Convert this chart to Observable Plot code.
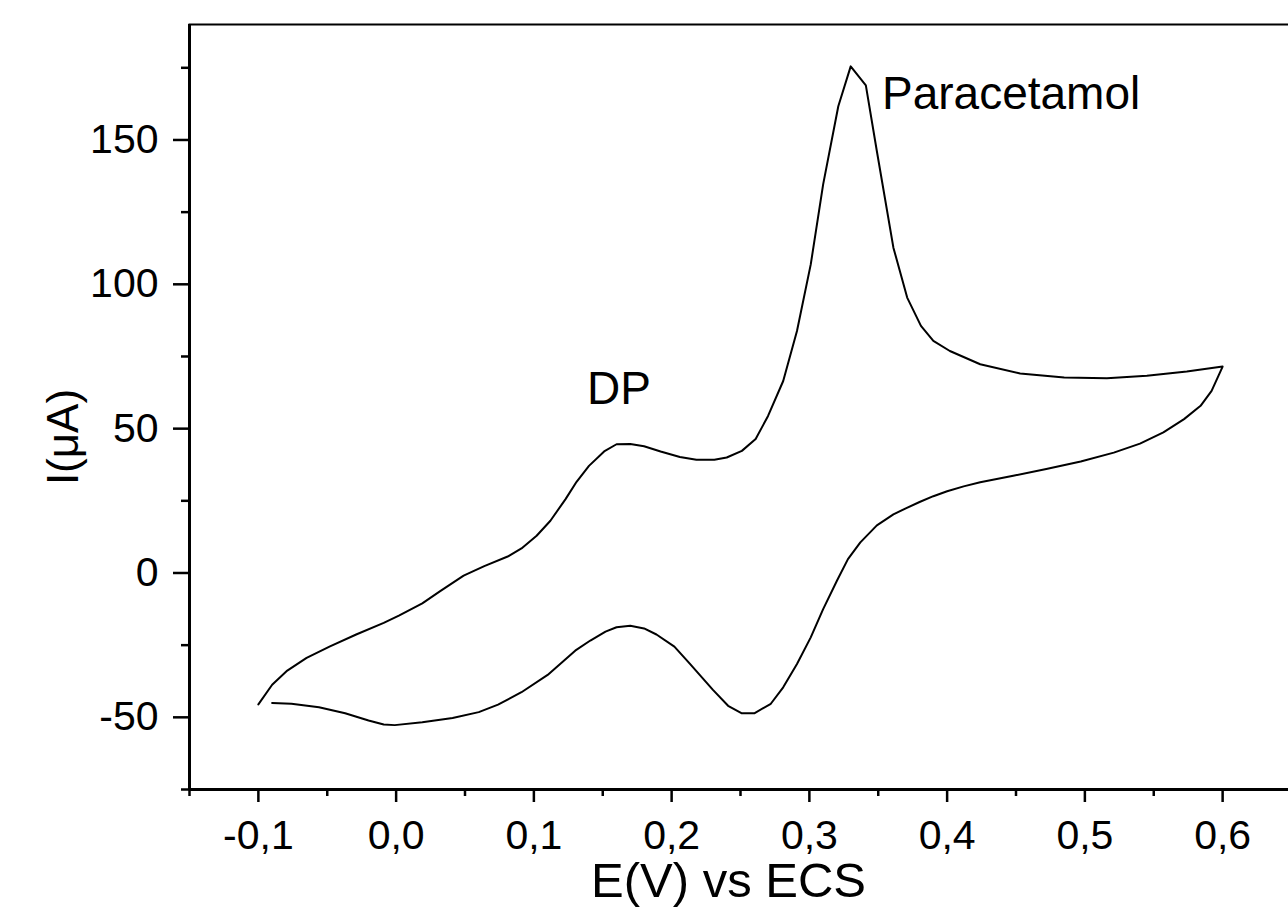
<!DOCTYPE html>
<html>
<head>
<meta charset="utf-8">
<script src="https://cdn.jsdelivr.net/npm/d3@7"></script>
<script src="https://cdn.jsdelivr.net/npm/@observablehq/plot@0.6"></script>
<style>
  html, body { margin: 0; padding: 0; background: #fff; overflow: hidden; }
  #chart { width: 1288px; height: 920px; overflow: hidden; }
  #chart svg { max-width: none !important; display: block; }
</style>
</head>
<body>
<div id="chart"></div>
<script>
// Cyclic voltammogram: forward (anodic) scan then reverse scan
const potential = [
  -0.100, -0.090, -0.079, -0.065, -0.048, -0.029, -0.009, 0.002, 0.019, 0.032,
  0.049, 0.064, 0.081, 0.091, 0.102, 0.112, 0.123, 0.131, 0.140, 0.151,
  0.160, 0.170, 0.180, 0.192, 0.206, 0.218, 0.231, 0.240, 0.251, 0.261,
  0.270, 0.281, 0.291, 0.301, 0.310, 0.321, 0.330, 0.341, 0.349, 0.361,
  0.371, 0.381, 0.390, 0.402, 0.424, 0.453, 0.485, 0.516, 0.545, 0.574,
  0.600,
  0.592, 0.584, 0.572, 0.557, 0.540, 0.521, 0.497, 0.472, 0.448, 0.424,
  0.412, 0.400, 0.390, 0.380, 0.370, 0.361, 0.349, 0.337, 0.328, 0.320, 0.310,
  0.301, 0.291, 0.281, 0.272, 0.260, 0.251, 0.241, 0.230, 0.213, 0.202,
  0.189, 0.180, 0.170, 0.160, 0.152, 0.141, 0.130, 0.110, 0.091, 0.074,
  0.060, 0.041, 0.019, -0.001, -0.009, -0.020, -0.037, -0.056, -0.076, -0.090
];
const current = [
  -45.5, -38.7, -33.8, -29.4, -25.4, -21.3, -17.3, -14.8, -10.5, -6.3,
  -0.9, 2.4, 5.7, 8.5, 12.9, 18.1, 25.6, 31.6, 37.1, 42.1,
  44.6, 44.7, 43.9, 42.1, 40.2, 39.2, 39.2, 40.0, 42.3, 46.4,
  54.4, 66.5, 83.8, 106.9, 134.6, 161.7, 175.5, 168.9, 146.1, 112.7,
  95.4, 85.6, 80.4, 76.9, 72.3, 69.1, 67.7, 67.5, 68.3, 69.8,
  71.5,
  63.1, 57.9, 53.3, 48.7, 44.8, 41.7, 38.6, 36.0, 33.7, 31.4,
  30.0, 28.3, 26.6, 24.6, 22.4, 20.3, 16.5, 10.6, 4.8, -2.7, -12.5,
  -22.3, -31.5, -39.6, -45.3, -48.6, -48.6, -46.0, -40.5, -31.3, -25.5,
  -21.3, -19.2, -18.3, -18.8, -20.3, -23.4, -26.9, -35.3, -41.3, -45.6,
  -48.2, -50.2, -51.7, -52.7, -52.5, -51.1, -48.6, -46.5, -45.3, -45.0
];

const xMajorTicks = [-0.1, 0, 0.1, 0.2, 0.3, 0.4, 0.5, 0.6];
const xMinorTicks = [-0.15, -0.05, 0.05, 0.15, 0.25, 0.35, 0.45, 0.55];
const yMajorTicks = [-50, 0, 50, 100, 150];
const yMinorTicks = [-75, -25, 25, 75, 125, 175];

const peakLabels = ["DP", "Paracetamol"];
const peakLabelE = [0.1385, 0.3527];
const peakLabelI = [63.8, 165.8];

const xLabel = "E(V) vs ECS";
const yLabel = "I(μA)";

const scan = potential.map((E, i) => ({E, I: current[i]}));
const annotations = peakLabels.map((t, i) => ({t, E: peakLabelE[i], I: peakLabelI[i]}));

const fmtX = d => d.toFixed(1).replace(".", ",").replace("-0,0", "0,0");
const fmtY = d => String(d);

const chart = Plot.plot({
  width: 1300,
  height: 920,
  marginLeft: 189,
  marginRight: 9,
  marginTop: 24,
  marginBottom: 131,
  x: {domain: [-0.15, 0.65]},
  y: {domain: [-75, 190]},
  style: {fontFamily: "'Liberation Sans', Arial, sans-serif", background: "#fff", color: "#000", overflow: "visible", maxWidth: "none"},
  marks: [
    Plot.frame({stroke: "#000", strokeWidth: 2}),
    Plot.ruleX([-0.15], {stroke: "#000", strokeWidth: 3}),
    Plot.ruleY([-75], {stroke: "#000", strokeWidth: 3}),
    Plot.axisX(xMajorTicks, {tickSize: 13, tickPadding: 17, strokeWidth: 2.5, fontSize: 41, tickFormat: fmtX, label: null}),
    Plot.axisX(xMinorTicks, {tickSize: 7, strokeWidth: 2.5, tickFormat: () => "", label: null}),
    Plot.axisY(yMajorTicks, {tickSize: 16, tickPadding: 15, strokeWidth: 2.5, fontSize: 41, tickFormat: fmtY, label: null}),
    Plot.axisY(yMinorTicks, {tickSize: 8, strokeWidth: 2.5, tickFormat: () => "", label: null}),
    Plot.line(scan, {x: "E", y: "I", stroke: "#000", strokeWidth: 2}),
    Plot.text(annotations, {x: "E", y: "I", text: "t", textAnchor: "start", lineAnchor: "middle", fontSize: 46, fill: "#000"}),
    Plot.text([xLabel], {frameAnchor: "bottom", dx: -12, dy: 92, textAnchor: "middle", lineAnchor: "middle", fontSize: 49, fill: "#000"}),
    Plot.text([yLabel], {frameAnchor: "left", dx: -126, dy: 30, rotate: -90, textAnchor: "middle", lineAnchor: "middle", fontSize: 44, fill: "#000"})
  ]
});
document.getElementById("chart").appendChild(chart);
</script>
</body>
</html>
